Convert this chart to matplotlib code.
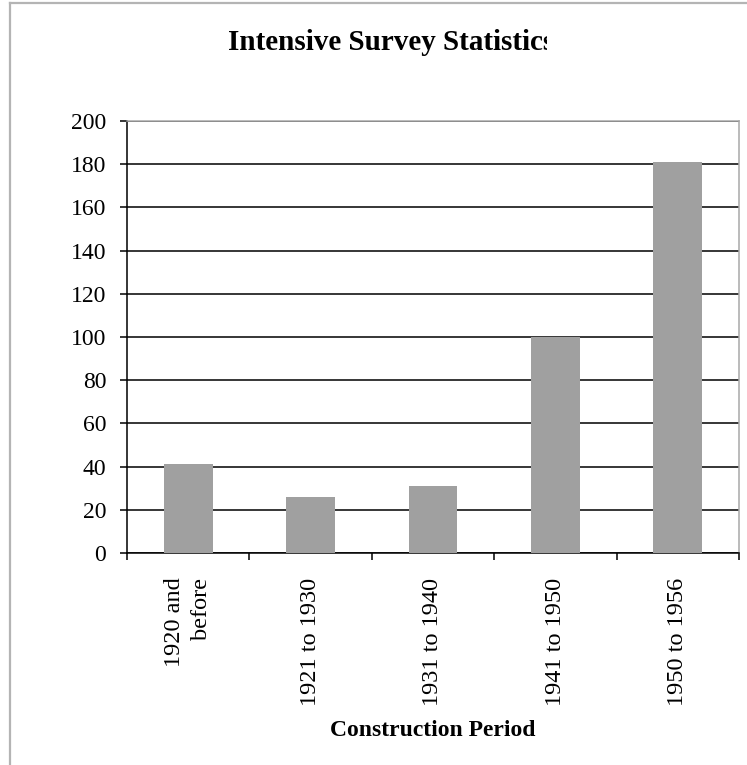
import matplotlib
matplotlib.use("Agg")
import matplotlib.pyplot as plt
from matplotlib.patches import Rectangle
from matplotlib.lines import Line2D

periods = ["1920 and\nbefore", "1921 to 1930", "1931 to 1940", "1941 to 1950", "1950 to 1956"]
counts = [41, 26, 31, 100, 181]
y_ticks = [0, 20, 40, 60, 80, 100, 120, 140, 160, 180, 200]

plt.rcParams["font.family"] = ["Liberation Serif", "DejaVu Serif"]

fig = plt.figure(figsize=(7.47, 7.65), dpi=100)
ax = fig.add_axes([127 / 747, 1 - 553 / 765, (739 - 127) / 747, (553 - 121) / 765])

# chart frame (top and left edges)
frame_col = "#b4b4b4"
fig.add_artist(Line2D([10 / 747, 1.0], [1 - 3 / 765, 1 - 3 / 765], color=frame_col, lw=1.6))
fig.add_artist(Line2D([10 / 747, 10 / 747], [0.0, 1 - 3 / 765], color=frame_col, lw=1.6))

x = range(len(periods))
ax.bar(x, counts, width=0.4, color="#a0a0a0", zorder=3)

ax.set_xlim(-0.5, len(periods) - 0.5)
ax.set_ylim(0, 200)
ax.set_yticks(y_ticks)
ax.tick_params(axis="y", labelsize=17, length=5, width=1.1, color="black", pad=10)
ax.yaxis.grid(True, color="black", lw=1.1, zorder=1)

# category labels centered, ticks on the boundaries
ax.set_xticks(list(x))
ax.set_xticklabels([])
ax.tick_params(axis="x", which="major", length=0)
ax.set_xticks([i - 0.5 for i in range(len(periods) + 1)], minor=True)
ax.tick_params(axis="x", which="minor", length=5, width=1.1, color="black")
for i, lab in enumerate(periods):
    ax.text(i, -0.057, lab, transform=ax.get_xaxis_transform(), rotation=90,
            ha="center", va="top", multialignment="right", fontsize=17.5,
            linespacing=1.35)

ax.spines["left"].set_linewidth(1.1)
ax.spines["bottom"].set_linewidth(1.1)
ax.spines["top"].set_color("#a8a8a8")
ax.spines["right"].set_color("#a8a8a8")
ax.spines["top"].set_linewidth(1.1)
ax.spines["right"].set_linewidth(1.1)

fig.text(433 / 747, 1 - 730 / 765, "Construction Period", ha="center", va="center",
         fontsize=17, fontweight="bold")

title = fig.text(228 / 747, 1 - 43 / 765, "Intensive Survey Statistics", ha="left",
                 va="center", fontsize=21, fontweight="bold")
clip = Rectangle((0, 0), 547 / 747, 1, transform=fig.transFigure, visible=False)
fig.add_artist(clip)
title.set_clip_path(clip)

fig.savefig("out.png", dpi=100, facecolor="white")
